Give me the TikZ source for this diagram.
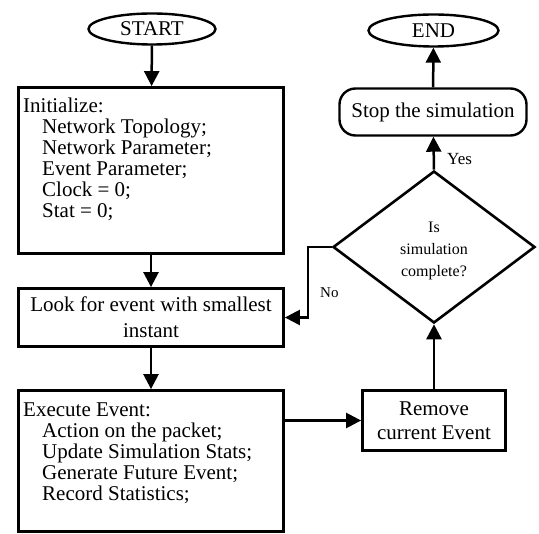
\documentclass[tikz,border=0pt]{standalone}
\usepackage{fontspec}
\setmainfont{Liberation Serif}
\usetikzlibrary{arrows.meta,shapes.geometric}

\tikzset{
  base/.style={font=\fontsize{21}{21}\selectfont, inner sep=0pt},
  procbox/.style={base, draw, line width=2.8pt, rectangle, align=center},
  termbox/.style={base, draw, line width=2.4pt, ellipse},
  roundbox/.style={base, draw, line width=2.4pt, rectangle, rounded corners=16pt},
  decbox/.style={draw, line width=2.6pt, diamond, inner sep=0pt},
  plain/.style={base, align=left, anchor=north west},
  flow/.style={line width=2.5pt, -{Triangle[length=15pt,width=15pt]}},
}

\begin{document}
\begin{tikzpicture}[x=1pt, y=-1pt]
  \useasboundingbox (0,0) rectangle (539,534);

  % terminals
  \node[termbox, minimum width=127pt, minimum height=31pt] (start) at (152,29) {START};
  \node[termbox, minimum width=130pt, minimum height=32pt] (end) at (433.5,30.5) {END};

  % left column of processing steps
  \node[procbox, minimum width=265pt, minimum height=166pt] (init) at (151,170.5) {};
  \node[plain] (inittext) at (23,98) {Initialize:\\
    \hspace*{19pt}Network Topology;\\
    \hspace*{19pt}Network Parameter;\\
    \hspace*{19pt}Event Parameter;\\
    \hspace*{19pt}Clock = 0;\\
    \hspace*{19pt}Stat = 0;};

  \node[procbox, minimum width=265pt, minimum height=58pt,
        font=\fontsize{21}{26}\selectfont] (look) at (151,317.5)
        {Look for event with smallest\\instant};

  \node[procbox, minimum width=265pt, minimum height=141pt] (exec) at (151,461) {};
  \node[plain] (exectext) at (23,403) {Execute Event:\\
    \hspace*{19pt}Action on the packet;\\
    \hspace*{19pt}Update Simulation Stats;\\
    \hspace*{19pt}Generate Future Event;\\
    \hspace*{19pt}Record Statistics;};

  % right column
  \node[procbox, minimum width=143pt, minimum height=60pt,
        font=\fontsize{21}{24}\selectfont] (remove) at (434,420.5)
        {Remove\\current Event};

  \node[decbox, minimum width=202pt, minimum height=152pt] (dec) at (434,247) {};
  \node[base, align=center, font=\fontsize{16}{22}\selectfont] (dectext) at (434,251)
        {Is\\simulation\\complete?};

  \node[roundbox, minimum width=187pt, minimum height=47pt] (stop) at (433,112)
        {Stop the simulation};

  % connectors
  \draw[flow] (start) -- (init);
  \draw[flow] (init) -- (look);
  \draw[flow] (look) -- (exec);
  \draw[flow] (remove.west -| exec.east) -- (remove.west);
  \draw[flow] (remove) -- (dec.south);
  \draw[flow] (dec.north) -- (stop);
  \draw[flow] (stop) -- (end);
  \coordinate (nocorner) at (308,247);
  \draw[flow] (dec.west) -- (nocorner) |- (look.east);

  % branch labels
  \node[base, anchor=base west, font=\fontsize{17}{17}\selectfont] (yes) at (447,165) {Yes};
  \node[base, anchor=base west, font=\fontsize{15}{15}\selectfont] (no) at (320,298) {No};
\end{tikzpicture}
\end{document}
